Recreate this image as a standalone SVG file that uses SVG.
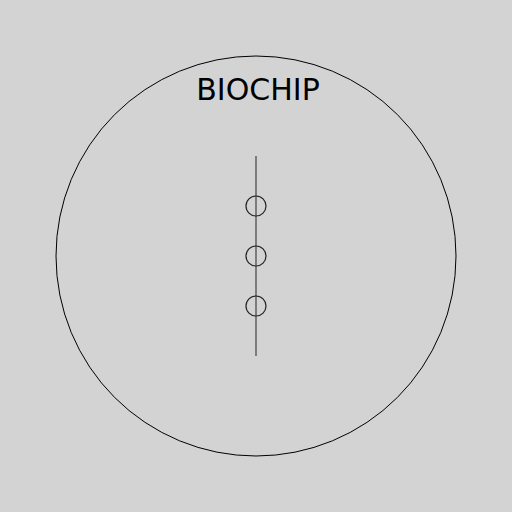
<svg xmlns="http://www.w3.org/2000/svg" width="512" height="512" viewBox="0 0 512 512">
<style>
.ring{fill:none;stroke:#000;stroke-width:1}
.dot{fill:none;stroke:#222;stroke-width:1.2}
.title{font-family:"DejaVu Sans",sans-serif;font-size:30px;fill:#000;text-anchor:middle}
</style>
<rect width="512" height="512" fill="#d3d3d3"/>
<g id="chip">
<circle class="ring" cx="256" cy="256" r="200"/>
<text class="title" x="258" y="100">BIOCHIP</text>
</g>
<g id="connectors">
<line x1="256" y1="156" x2="256" y2="356" stroke="#666" stroke-width="1.6"/>
</g>
<g id="well1"><circle class="dot" cx="256" cy="206" r="10"/></g>
<g id="well2"><circle class="dot" cx="256" cy="256" r="10"/></g>
<g id="well3"><circle class="dot" cx="256" cy="306" r="10"/></g>
</svg>
